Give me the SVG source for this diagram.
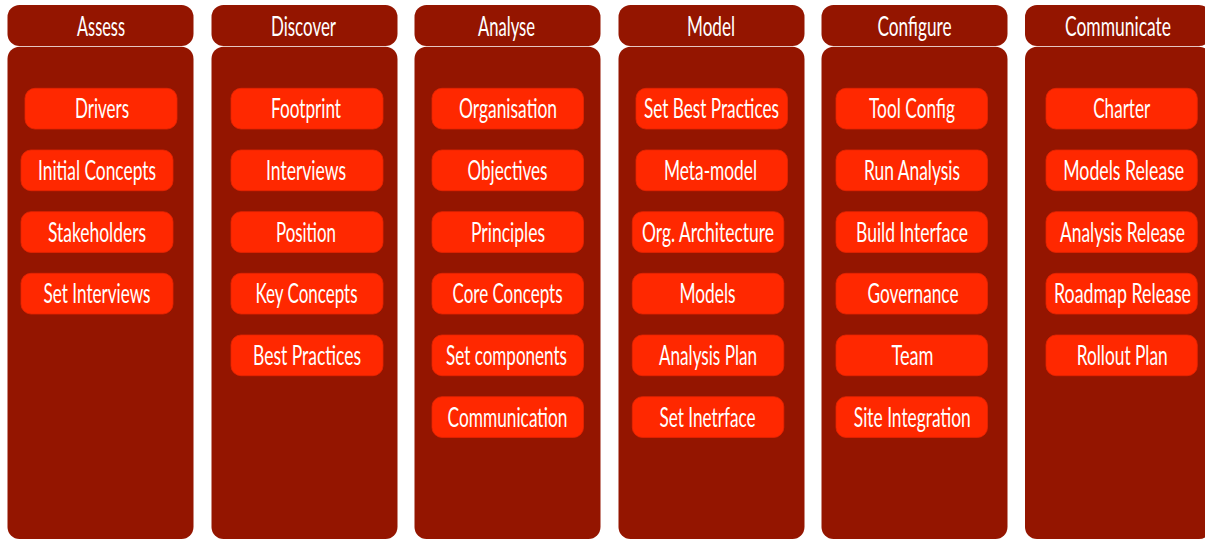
<svg xmlns="http://www.w3.org/2000/svg" width="1205" height="540" viewBox="0 0 1205 540">
<style>
.hd{fill:#941500;}
.bd{fill:#941500;}
.it{fill:#FF2800;stroke:#E62400;stroke-width:0.8;}
text{font-family:Lato,"Open Sans","Liberation Sans",sans-serif;font-size:27px;fill:#FFFFFF;text-anchor:middle;}
</style>
<rect width="1205" height="540" fill="#FFFFFF"/>
<g id="col-assess">
<rect class="hd" x="7.5" y="5" width="186" height="41" rx="12"/>
<rect class="bd" x="7.5" y="46.7" width="186" height="492.3" rx="12"/>
<text x="101" y="35.5" textLength="48" lengthAdjust="spacingAndGlyphs">Assess</text>
<g id="n-drivers"><rect class="it" x="25" y="88.3" width="152" height="40.7" rx="10"/><text x="102" y="118.3" textLength="54" lengthAdjust="spacingAndGlyphs">Drivers</text></g>
<g id="n-initial-concepts"><rect class="it" x="21" y="150" width="152" height="40.7" rx="10"/><text x="97" y="180" textLength="118" lengthAdjust="spacingAndGlyphs">Initial Concepts</text></g>
<g id="n-stakeholders"><rect class="it" x="21" y="211.7" width="152" height="40.7" rx="10"/><text x="97" y="241.7" textLength="98" lengthAdjust="spacingAndGlyphs">Stakeholders</text></g>
<g id="n-set-interviews"><rect class="it" x="21" y="273.3" width="152" height="40.7" rx="10"/><text x="97" y="303.3" textLength="107" lengthAdjust="spacingAndGlyphs">Set Interviews</text></g>
</g>
<g id="col-discover">
<rect class="hd" x="211.5" y="5" width="186" height="41" rx="12"/>
<rect class="bd" x="211.5" y="46.7" width="186" height="492.3" rx="12"/>
<text x="303.5" y="35.5" textLength="65" lengthAdjust="spacingAndGlyphs">Discover</text>
<g id="n-footprint"><rect class="it" x="231" y="88.3" width="152" height="40.7" rx="10"/><text x="306" y="118.3" textLength="70" lengthAdjust="spacingAndGlyphs">Footprint</text></g>
<g id="n-interviews"><rect class="it" x="231" y="150" width="152" height="40.7" rx="10"/><text x="306" y="180" textLength="80" lengthAdjust="spacingAndGlyphs">Interviews</text></g>
<g id="n-position"><rect class="it" x="231" y="211.7" width="152" height="40.7" rx="10"/><text x="306" y="241.7" textLength="60" lengthAdjust="spacingAndGlyphs">Position</text></g>
<g id="n-key-concepts"><rect class="it" x="231" y="273.3" width="152" height="40.7" rx="10"/><text x="306.5" y="303.3" textLength="102" lengthAdjust="spacingAndGlyphs">Key Concepts</text></g>
<g id="n-best-practices"><rect class="it" x="231" y="335" width="152" height="40.7" rx="10"/><text x="307" y="365" textLength="108" lengthAdjust="spacingAndGlyphs">Best Practices</text></g>
</g>
<g id="col-analyse">
<rect class="hd" x="414.5" y="5" width="186" height="41" rx="12"/>
<rect class="bd" x="414.5" y="46.7" width="186" height="492.3" rx="12"/>
<text x="506.5" y="35.5" textLength="57" lengthAdjust="spacingAndGlyphs">Analyse</text>
<g id="n-organisation"><rect class="it" x="432" y="88.3" width="151.5" height="40.7" rx="10"/><text x="508" y="118.3" textLength="98" lengthAdjust="spacingAndGlyphs">Organisation</text></g>
<g id="n-objectives"><rect class="it" x="432" y="150" width="151.5" height="40.7" rx="10"/><text x="507.5" y="180" textLength="80" lengthAdjust="spacingAndGlyphs">Objectives</text></g>
<g id="n-principles"><rect class="it" x="432" y="211.7" width="151.5" height="40.7" rx="10"/><text x="508" y="241.7" textLength="74" lengthAdjust="spacingAndGlyphs">Principles</text></g>
<g id="n-core-concepts"><rect class="it" x="432" y="273.3" width="151.5" height="40.7" rx="10"/><text x="507.5" y="303.3" textLength="110" lengthAdjust="spacingAndGlyphs">Core Concepts</text></g>
<g id="n-set-components"><rect class="it" x="432" y="335" width="151.5" height="40.7" rx="10"/><text x="506.5" y="365" textLength="121" lengthAdjust="spacingAndGlyphs">Set components</text></g>
<g id="n-communication"><rect class="it" x="432" y="396.7" width="151.5" height="40.7" rx="10"/><text x="507.5" y="426.7" textLength="120" lengthAdjust="spacingAndGlyphs">Communication</text></g>
</g>
<g id="col-model">
<rect class="hd" x="618.5" y="5" width="186" height="41" rx="12"/>
<rect class="bd" x="618.5" y="46.7" width="186" height="492.3" rx="12"/>
<text x="711" y="35.5" textLength="48" lengthAdjust="spacingAndGlyphs">Model</text>
<g id="n-set-best-practices"><rect class="it" x="636" y="88.3" width="151.5" height="40.7" rx="10"/><text x="711.5" y="118.3" textLength="135" lengthAdjust="spacingAndGlyphs">Set Best Practices</text></g>
<g id="n-meta-model"><rect class="it" x="636" y="150" width="151.5" height="40.7" rx="10"/><text x="710.5" y="180" textLength="93" lengthAdjust="spacingAndGlyphs">Meta-model</text></g>
<g id="n-org-architecture"><rect class="it" x="632.3" y="211.7" width="151.5" height="40.7" rx="10"/><text x="708" y="241.7" textLength="132" lengthAdjust="spacingAndGlyphs">Org. Architecture</text></g>
<g id="n-models"><rect class="it" x="632.3" y="273.3" width="151.5" height="40.7" rx="10"/><text x="707.5" y="303.3" textLength="56" lengthAdjust="spacingAndGlyphs">Models</text></g>
<g id="n-analysis-plan"><rect class="it" x="632.3" y="335" width="151.5" height="40.7" rx="10"/><text x="708" y="365" textLength="98" lengthAdjust="spacingAndGlyphs">Analysis Plan</text></g>
<g id="n-set-inetrface"><rect class="it" x="632.3" y="396.7" width="151.5" height="40.7" rx="10"/><text x="707.5" y="426.7" textLength="96" lengthAdjust="spacingAndGlyphs">Set Inetrface</text></g>
</g>
<g id="col-configure">
<rect class="hd" x="821.5" y="5" width="186" height="41" rx="12"/>
<rect class="bd" x="821.5" y="46.7" width="186" height="492.3" rx="12"/>
<text x="914.5" y="35.5" textLength="74" lengthAdjust="spacingAndGlyphs">Configure</text>
<g id="n-tool-config"><rect class="it" x="836" y="88.3" width="151.5" height="40.7" rx="10"/><text x="912" y="118.3" textLength="86" lengthAdjust="spacingAndGlyphs">Tool Config</text></g>
<g id="n-run-analysis"><rect class="it" x="836" y="150" width="151.5" height="40.7" rx="10"/><text x="912" y="180" textLength="96" lengthAdjust="spacingAndGlyphs">Run Analysis</text></g>
<g id="n-build-interface"><rect class="it" x="836" y="211.7" width="151.5" height="40.7" rx="10"/><text x="912" y="241.7" textLength="112" lengthAdjust="spacingAndGlyphs">Build Interface</text></g>
<g id="n-governance"><rect class="it" x="836" y="273.3" width="151.5" height="40.7" rx="10"/><text x="913" y="303.3" textLength="91" lengthAdjust="spacingAndGlyphs">Governance</text></g>
<g id="n-team"><rect class="it" x="836" y="335" width="151.5" height="40.7" rx="10"/><text x="912.5" y="365" textLength="42" lengthAdjust="spacingAndGlyphs">Team</text></g>
<g id="n-site-integration"><rect class="it" x="836" y="396.7" width="151.5" height="40.7" rx="10"/><text x="912.3" y="426.7" textLength="117" lengthAdjust="spacingAndGlyphs">Site Integration</text></g>
</g>
<g id="col-communicate">
<rect class="hd" x="1025" y="5" width="186" height="41" rx="12"/>
<rect class="bd" x="1025" y="46.7" width="186" height="492.3" rx="12"/>
<text x="1118" y="35.5" textLength="106" lengthAdjust="spacingAndGlyphs">Communicate</text>
<g id="n-charter"><rect class="it" x="1046" y="88.3" width="151.3" height="40.7" rx="10"/><text x="1121.7" y="118.3" textLength="57" lengthAdjust="spacingAndGlyphs">Charter</text></g>
<g id="n-models-release"><rect class="it" x="1046" y="150" width="151.3" height="40.7" rx="10"/><text x="1123.7" y="180" textLength="121" lengthAdjust="spacingAndGlyphs">Models Release</text></g>
<g id="n-analysis-release"><rect class="it" x="1046" y="211.7" width="151.3" height="40.7" rx="10"/><text x="1122.5" y="241.7" textLength="125" lengthAdjust="spacingAndGlyphs">Analysis Release</text></g>
<g id="n-roadmap-release"><rect class="it" x="1046" y="273.3" width="151.3" height="40.7" rx="10"/><text x="1122.5" y="303.3" textLength="137" lengthAdjust="spacingAndGlyphs">Roadmap Release</text></g>
<g id="n-rollout-plan"><rect class="it" x="1046" y="335" width="151.3" height="40.7" rx="10"/><text x="1122.2" y="365" textLength="91" lengthAdjust="spacingAndGlyphs">Rollout Plan</text></g>
</g>
<g id="connectors"/>
</svg>
